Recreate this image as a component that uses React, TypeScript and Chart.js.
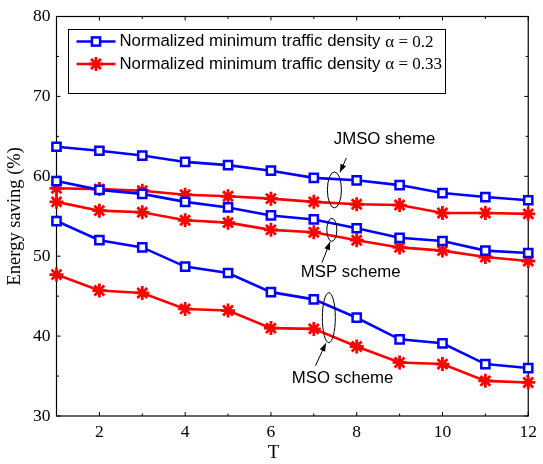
import React, { useEffect, useRef } from 'react';
import { Chart, registerables } from 'chart.js';

Chart.register(...registerables);

// ---- data ----
const T_VALUES = [1, 2, 3, 4, 5, 6, 7, 8, 9, 10, 11, 12];
const JMSO_A02 = [63.7, 63.2, 62.6, 61.8, 61.4, 60.7, 59.8, 59.5, 58.9, 57.9, 57.4, 57.0];
const JMSO_A033 = [58.5, 58.4, 58.2, 57.7, 57.5, 57.2, 56.8, 56.5, 56.4, 55.4, 55.4, 55.3];
const MSP_A02 = [59.4, 58.3, 57.8, 56.8, 56.1, 55.1, 54.6, 53.5, 52.3, 51.9, 50.7, 50.4];
const MSP_A033 = [56.8, 55.7, 55.5, 54.5, 54.2, 53.3, 53.0, 52.0, 51.1, 50.7, 49.9, 49.4];
const MSO_A02 = [54.4, 52.0, 51.1, 48.7, 47.9, 45.5, 44.6, 42.3, 39.6, 39.1, 36.5, 36.0];
const MSO_A033 = [47.7, 45.7, 45.4, 43.4, 43.2, 41.0, 40.9, 38.7, 36.7, 36.5, 34.4, 34.2];

const X_MAJOR_TICKS = [2, 4, 6, 8, 10, 12];
const Y_MAJOR_TICKS = [30, 40, 50, 60, 70, 80];
const LEGEND_TEXT = ['Normalized minimum traffic density', 'Normalized minimum traffic density'];
const LEGEND_ALPHA = ['\u03b1 = 0.2', '\u03b1 = 0.33'];
const SCHEME_NAMES = ['JMSO sheme', 'MSP scheme', 'MSO scheme'];
const X_TITLE = 'T';
const Y_TITLE = 'Energy saving (%)';

// annotation anchors in data units
const ANNOTATIONS = [
  { cx: 7.48, cy: 58.3, rx: 7, ry: 18, fx: 7.76, fy: 62.3, tx: 7.61, ty: 60.5, lx: 8.65, ly: 64.6 },
  { cx: 7.42, cy: 53.3, rx: 5, ry: 11.5, fx: 7.19, fy: 49.2, tx: 7.38, ty: 51.8, lx: 7.86, ly: 48.0 },
  { cx: 7.35, cy: 42.3, rx: 6.5, ry: 25, fx: 7.04, fy: 36.3, tx: 7.28, ty: 39.1, lx: 7.67, ly: 34.65 },
];

const BLUE = '#0000ff';
const RED = '#ff0000';
const SANS = '"Liberation Sans", Arial, sans-serif';
const SERIF = '"Liberation Serif", "Times New Roman", serif';
const LABEL_FONT = `16.8px ${SANS}`;

const blueSet = (data: number[]) => ({
  data: T_VALUES.map((t, i) => ({ x: t, y: data[i] })),
  borderColor: BLUE,
  backgroundColor: '#ffffff',
  pointBorderColor: BLUE,
  pointBackgroundColor: '#ffffff',
  pointStyle: 'rect',
  pointRadius: 5.8,
  pointBorderWidth: 2.5,
  borderWidth: 2.6,
  clip: false as const,
});
const redSet = (data: number[]) => ({
  data: T_VALUES.map((t, i) => ({ x: t, y: data[i] })),
  borderColor: RED,
  backgroundColor: RED,
  pointBorderColor: RED,
  pointBackgroundColor: RED,
  pointStyle: 'star',
  pointRadius: 7,
  pointBorderWidth: 2.8,
  borderWidth: 2.6,
  clip: false as const,
});

function drawArrow(ctx: CanvasRenderingContext2D, x1: number, y1: number, x2: number, y2: number) {
  ctx.beginPath();
  ctx.moveTo(x1, y1);
  ctx.lineTo(x2, y2);
  ctx.stroke();
  const ang = Math.atan2(y2 - y1, x2 - x1);
  const L = 8, W = 3;
  ctx.beginPath();
  ctx.moveTo(x2, y2);
  ctx.lineTo(x2 - L * Math.cos(ang) + W * Math.sin(ang), y2 - L * Math.sin(ang) - W * Math.cos(ang));
  ctx.lineTo(x2 - L * Math.cos(ang) - W * Math.sin(ang), y2 - L * Math.sin(ang) + W * Math.cos(ang));
  ctx.closePath();
  ctx.fill();
}

const framePlugin = {
  id: 'frame',
  beforeDatasetsDraw(chart: any) {
    const { ctx, chartArea: a, scales } = chart;
    const xs = scales.x, ys = scales.y;
    ctx.save();
    ctx.strokeStyle = '#000';
    ctx.lineWidth = 1.2;
    ctx.strokeRect(a.left, a.top, a.right - a.left, a.bottom - a.top);
    ctx.lineWidth = 1;
    ctx.beginPath();
    for (const t of T_VALUES) {
      const px = xs.getPixelForValue(t);
      const len = X_MAJOR_TICKS.includes(t) ? 4 : 2.5;
      ctx.moveTo(px, a.bottom); ctx.lineTo(px, a.bottom - len);
      ctx.moveTo(px, a.top); ctx.lineTo(px, a.top + len);
    }
    for (let v = 30; v <= 80; v += 5) {
      const py = ys.getPixelForValue(v);
      const len = Y_MAJOR_TICKS.includes(v) ? 4 : 2.5;
      ctx.moveTo(a.left, py); ctx.lineTo(a.left + len, py);
      ctx.moveTo(a.right, py); ctx.lineTo(a.right - len, py);
    }
    ctx.stroke();
    ctx.restore();
  },
  afterDatasetsDraw(chart: any) {
    const { ctx, chartArea: a, scales } = chart;
    const xs = scales.x, ys = scales.y;
    ctx.save();
    // annotations
    ctx.strokeStyle = '#000';
    ctx.fillStyle = '#000';
    ctx.lineWidth = 1;
    ANNOTATIONS.forEach((an, i) => {
      ctx.beginPath();
      ctx.ellipse(xs.getPixelForValue(an.cx), ys.getPixelForValue(an.cy), an.rx, an.ry, 0, 0, Math.PI * 2);
      ctx.stroke();
      drawArrow(ctx, xs.getPixelForValue(an.fx), ys.getPixelForValue(an.fy), xs.getPixelForValue(an.tx), ys.getPixelForValue(an.ty));
      ctx.font = LABEL_FONT;
      ctx.textAlign = 'center';
      ctx.textBaseline = 'middle';
      ctx.fillText(SCHEME_NAMES[i], xs.getPixelForValue(an.lx), ys.getPixelForValue(an.ly));
    });

    // legend
    const bx = a.left + 12, by = a.top + 13, bw = 377, bh = 64;
    ctx.fillStyle = '#fff';
    ctx.fillRect(bx, by, bw, bh);
    ctx.strokeStyle = '#000';
    ctx.lineWidth = 1;
    ctx.strokeRect(bx, by, bw, bh);
    const colors = [BLUE, RED];
    colors.forEach((c, i) => {
      const yy = by + 12 + i * 22.5;
      const x0 = bx + 8, x1 = bx + 47, xm = (x0 + x1) / 2;
      ctx.strokeStyle = c;
      ctx.lineWidth = 2.6;
      ctx.beginPath(); ctx.moveTo(x0, yy); ctx.lineTo(x1, yy); ctx.stroke();
      if (i === 0) {
        const s = 8.2;
        ctx.fillStyle = '#fff';
        ctx.fillRect(xm - s / 2, yy - s / 2, s, s);
        ctx.lineWidth = 2.5;
        ctx.strokeRect(xm - s / 2, yy - s / 2, s, s);
      } else {
        const r = 7;
        ctx.lineWidth = 2.8;
        ctx.beginPath();
        for (let k = 0; k < 4; k++) {
          const ang = (k * Math.PI) / 4;
          ctx.moveTo(xm - r * Math.cos(ang), yy - r * Math.sin(ang));
          ctx.lineTo(xm + r * Math.cos(ang), yy + r * Math.sin(ang));
        }
        ctx.stroke();
      }
      ctx.fillStyle = '#000';
      ctx.textAlign = 'left';
      ctx.textBaseline = 'middle';
      ctx.font = LABEL_FONT;
      const tx = bx + 51;
      ctx.fillText(LEGEND_TEXT[i], tx, yy);
      const w = ctx.measureText(LEGEND_TEXT[i]).width;
      ctx.font = `17px ${SERIF}`;
      ctx.fillText(LEGEND_ALPHA[i], tx + w + 5, yy + 1);
    });

    // x title
    ctx.fillStyle = '#000';
    ctx.font = `19px ${SERIF}`;
    ctx.textAlign = 'center';
    ctx.textBaseline = 'middle';
    ctx.fillText(X_TITLE, chart.width / 2 + 2, 453);
    ctx.restore();
  },
};

export default function App() {
  const ref = useRef<HTMLCanvasElement | null>(null);
  useEffect(() => {
    document.body.style.margin = '0';
    const canvas = ref.current!;
    const chart = new Chart(canvas, {
      type: 'line',
      data: {
        datasets: [
          blueSet(JMSO_A02),
          blueSet(MSP_A02),
          blueSet(MSO_A02),
          redSet(JMSO_A033),
          redSet(MSP_A033),
          redSet(MSO_A033),
        ] as any,
      },
      options: {
        responsive: false,
        animation: false,
        devicePixelRatio: 1,
        layout: { padding: { top: 14.7, right: 9, left: 0, bottom: 0 } },
        plugins: { legend: { display: false }, tooltip: { enabled: false }, title: { display: false } },
        scales: {
          x: {
            type: 'linear',
            min: 1,
            max: 12,
            afterFit: (s: any) => { s.height = 48; },
            grid: { display: false, drawTicks: false },
            border: { display: false },
            ticks: {
              stepSize: 1,
              autoSkip: false,
              maxRotation: 0,
              padding: 6,
              color: '#000',
              font: { family: SERIF, size: 17.5 },
              callback: (v: any) => (X_MAJOR_TICKS.includes(Number(v)) ? String(v) : ''),
            },
          },
          y: {
            type: 'linear',
            min: 30,
            max: 80,
            afterFit: (s: any) => { s.width = 56.5; },
            grid: { display: false, drawTicks: false },
            border: { display: false },
            title: {
              display: true,
              text: Y_TITLE,
              color: '#000',
              font: { family: SERIF, size: 18.5 },
              padding: { top: 4, bottom: 0 },
            },
            ticks: {
              stepSize: 5,
              autoSkip: false,
              padding: 6,
              color: '#000',
              font: { family: SERIF, size: 17.5 },
              callback: (v: any) => (Y_MAJOR_TICKS.includes(Number(v)) ? String(v) : ''),
            },
          },
        },
      } as any,
      plugins: [framePlugin],
    });
    return () => chart.destroy();
  }, []);
  return (
    <div style={{ position: 'absolute', left: 0, top: 0, width: 543, height: 464 }}>
      <canvas ref={ref} width={543} height={464} />
    </div>
  );
}
